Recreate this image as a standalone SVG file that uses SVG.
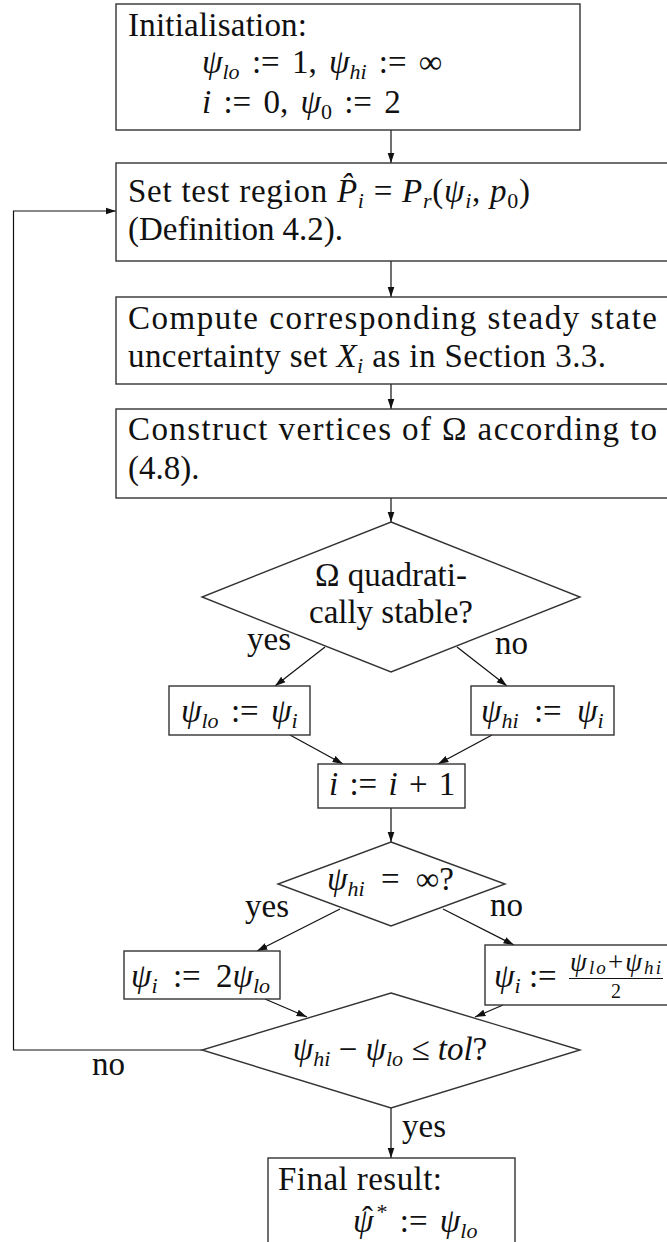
<svg xmlns="http://www.w3.org/2000/svg" width="667" height="1242" viewBox="0 0 667 1242">
  <style>
    .t { font-family: "Liberation Serif", "Times New Roman", serif; font-size: 33px; fill: #111; }
    .i { font-style: italic; }
    .s { font-size: 22px; }
    .f { font-size: 27px; }
    .fs { font-size: 19px; }
    .d { font-size: 20px; }
    .mid { text-anchor: middle; }
    .box { fill: #fff; stroke: #333; stroke-width: 1.4; }
    .edge { fill: none; stroke: #111; stroke-width: 1.2; }
  </style>
  <defs>
    <marker id="arrow" markerUnits="userSpaceOnUse" markerWidth="11" markerHeight="8" refX="10.5" refY="4" orient="auto">
      <path d="M0,0.5 L10.5,4 L0,7.5 z" fill="#111"/>
    </marker>
  </defs>

  <rect width="667" height="1242" fill="#fff"/>

  <!-- connectors -->
  <g id="connectors">
    <line class="edge" x1="391" y1="130" x2="391" y2="163" marker-end="url(#arrow)"/>
    <line class="edge" x1="391" y1="261" x2="391" y2="297" marker-end="url(#arrow)"/>
    <line class="edge" x1="391" y1="384" x2="391" y2="409" marker-end="url(#arrow)"/>
    <line class="edge" x1="391" y1="498" x2="391" y2="522" marker-end="url(#arrow)"/>
    <line class="edge" x1="325" y1="647" x2="275" y2="686" marker-end="url(#arrow)"/>
    <line class="edge" x1="457" y1="647" x2="507" y2="686" marker-end="url(#arrow)"/>
    <line class="edge" x1="290" y1="735" x2="343" y2="764" marker-end="url(#arrow)"/>
    <line class="edge" x1="492" y1="735" x2="438" y2="764" marker-end="url(#arrow)"/>
    <line class="edge" x1="391" y1="808" x2="391" y2="842" marker-end="url(#arrow)"/>
    <line class="edge" x1="340" y1="909" x2="257" y2="951" marker-end="url(#arrow)"/>
    <line class="edge" x1="443" y1="909" x2="514" y2="945" marker-end="url(#arrow)"/>
    <line class="edge" x1="265" y1="999" x2="307" y2="1017" marker-end="url(#arrow)"/>
    <line class="edge" x1="503" y1="1005" x2="475" y2="1017" marker-end="url(#arrow)"/>
    <line class="edge" x1="391" y1="1108" x2="391" y2="1158" marker-end="url(#arrow)"/>
    <polyline class="edge" points="202,1050 13.5,1050 13.5,211 116,211" marker-end="url(#arrow)"/>
    <text class="t" x="247" y="650">yes</text>
    <text class="t" x="495" y="654">no</text>
    <text class="t" x="245" y="917">yes</text>
    <text class="t" x="490" y="916">no</text>
    <text class="t" x="92" y="1075">no</text>
    <text class="t" x="402" y="1137">yes</text>
  </g>

  <!-- initialisation -->
  <g id="init">
    <rect class="box" x="116" y="4" width="464" height="126"/>
    <text class="t" x="128" y="36" textLength="179" lengthAdjust="spacing">Initialisation:</text>
    <text class="t" x="202" y="73" word-spacing="4"><tspan class="i">ψ</tspan><tspan class="i s" dy="6">lo</tspan><tspan dy="-6"> := 1, </tspan><tspan class="i">ψ</tspan><tspan class="i s" dy="6">hi</tspan><tspan dy="-6"> := ∞</tspan></text>
    <text class="t" x="202" y="113" word-spacing="4"><tspan class="i">i</tspan> := 0, <tspan class="i">ψ</tspan><tspan class="s" dy="6">0</tspan><tspan dy="-6"> := 2</tspan></text>
  </g>

  <!-- test region -->
  <g id="region">
    <rect class="box" x="116" y="163" width="570" height="98"/>
    <text class="t" x="128" y="202" textLength="402" lengthAdjust="spacing">Set test region <tspan class="i">P̂</tspan><tspan class="i s" dy="6">i</tspan><tspan dy="-6"> = </tspan><tspan class="i">P</tspan><tspan class="i s" dy="6">r</tspan><tspan dy="-6">(</tspan><tspan class="i">ψ</tspan><tspan class="i s" dy="6">i</tspan><tspan dy="-6">, </tspan><tspan class="i">p</tspan><tspan class="s" dy="6">0</tspan><tspan dy="-6">)</tspan></text>
    <text class="t" x="128" y="240" textLength="215" lengthAdjust="spacing">(Definition 4.2).</text>
  </g>

  <!-- steady state set -->
  <g id="steady">
    <rect class="box" x="116" y="297" width="570" height="87"/>
    <text class="t" x="128" y="329" textLength="529" lengthAdjust="spacing">Compute corresponding steady state</text>
    <text class="t" x="128" y="367" textLength="478" lengthAdjust="spacing">uncertainty set <tspan class="i">X</tspan><tspan class="i s" dy="6">i</tspan><tspan dy="-6"> as in Section 3.3.</tspan></text>
  </g>

  <!-- vertices -->
  <g id="vertices">
    <rect class="box" x="116" y="409" width="570" height="89"/>
    <text class="t" x="128" y="440" textLength="529" lengthAdjust="spacing">Construct vertices of Ω according to</text>
    <text class="t" x="128" y="479">(4.8).</text>
  </g>

  <!-- stability test -->
  <g id="stable">
    <polygon class="box" points="391,522 580,597 391,672 202,597"/>
    <text class="t mid" x="391" y="586">Ω quadrati-</text>
    <text class="t mid" x="391" y="623">cally stable?</text>
  </g>

  <g id="set-lo">
    <rect class="box" x="169" y="686" width="141" height="49"/>
    <text class="t" x="181" y="722" word-spacing="4"><tspan class="i">ψ</tspan><tspan class="i s" dy="6">lo</tspan><tspan dy="-6"> := </tspan><tspan class="i">ψ</tspan><tspan class="i s" dy="6">i</tspan></text>
  </g>

  <g id="set-hi">
    <rect class="box" x="471" y="686" width="143" height="49"/>
    <text class="t" x="481" y="722" word-spacing="7"><tspan class="i">ψ</tspan><tspan class="i s" dy="6">hi</tspan><tspan dy="-6"> := </tspan><tspan class="i">ψ</tspan><tspan class="i s" dy="6">i</tspan></text>
  </g>

  <g id="increment">
    <rect class="box" x="318" y="764" width="147" height="44"/>
    <text class="t" x="329" y="795" word-spacing="3"><tspan class="i">i</tspan> := <tspan class="i">i</tspan> + 1</text>
  </g>

  <!-- upper bound test -->
  <g id="inf-test">
    <polygon class="box" points="391,842 505,884 391,926 278,884"/>
    <text class="t" x="327" y="890" word-spacing="8"><tspan class="i">ψ</tspan><tspan class="i s" dy="6">hi</tspan><tspan dy="-6"> = ∞?</tspan></text>
  </g>

  <g id="double">
    <rect class="box" x="124" y="951" width="156" height="48"/>
    <text class="t" x="131" y="987" word-spacing="7"><tspan class="i">ψ</tspan><tspan class="i s" dy="6">i</tspan><tspan dy="-6"> := 2</tspan><tspan class="i">ψ</tspan><tspan class="i s" dy="6">lo</tspan></text>
  </g>

  <g id="bisect">
    <rect class="box" x="485" y="945" width="200" height="60"/>
    <text class="t" x="494" y="987"><tspan class="i">ψ</tspan><tspan class="i s" dy="6">i</tspan><tspan dy="-6"> :=</tspan></text>
    <text class="t f" x="570" y="971" textLength="91" lengthAdjust="spacing"><tspan class="i">ψ</tspan><tspan class="i fs" dy="3">lo</tspan><tspan dy="-3">+</tspan><tspan class="i">ψ</tspan><tspan class="i fs" dy="3">hi</tspan></text>
    <line x1="569" y1="978.5" x2="663" y2="978.5" stroke="#111" stroke-width="1"/>
    <text class="t d mid" x="616" y="998">2</text>
  </g>

  <!-- tolerance test -->
  <g id="tol-test">
    <polygon class="box" points="391,993 580,1050 391,1108 202,1050"/>
    <text class="t mid" x="390" y="1060"><tspan class="i">ψ</tspan><tspan class="i s" dy="6">hi</tspan><tspan dy="-6"> − </tspan><tspan class="i">ψ</tspan><tspan class="i s" dy="6">lo</tspan><tspan dy="-6"> ≤ </tspan><tspan class="i">tol</tspan>?</text>
  </g>

  <g id="result">
    <rect class="box" x="268" y="1158" width="247" height="120"/>
    <text class="t" x="278" y="1190" textLength="164" lengthAdjust="spacing">Final result:</text>
    <text class="t" x="353" y="1232" word-spacing="4"><tspan class="i">ψ</tspan><tspan dx="-6" dy="-2">̂</tspan><tspan class="s" dx="9" dy="-11">*</tspan><tspan dy="13"> := </tspan><tspan class="i">ψ</tspan><tspan class="i s" dy="6">lo</tspan></text>
  </g>
</svg>
